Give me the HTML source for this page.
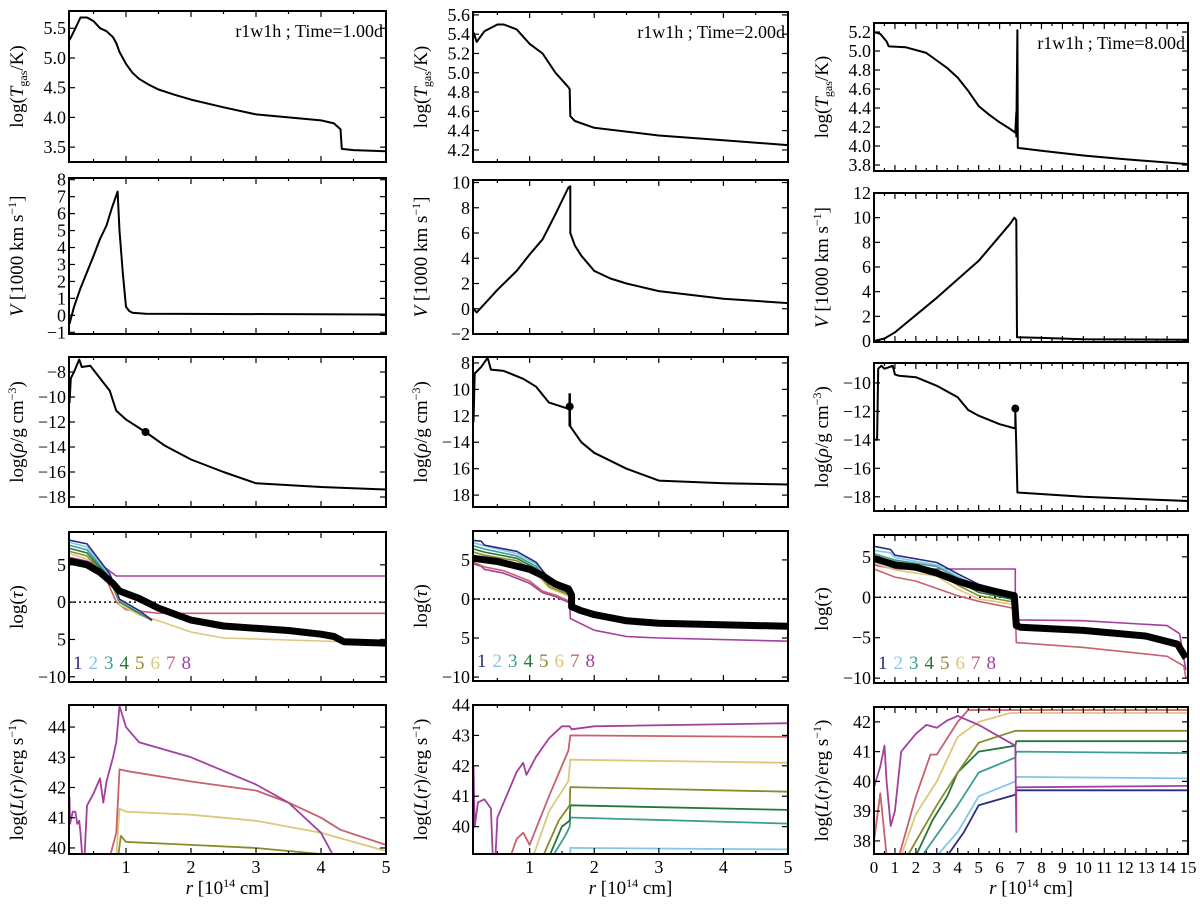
<!DOCTYPE html>
<html><head><meta charset="utf-8"><style>
body{margin:0;background:#fff;width:1200px;height:903px;overflow:hidden}
svg text{font-family:"Liberation Serif",serif;fill:#000}
</style></head><body>
<svg id="fig" width="1200" height="903" viewBox="0 0 1200 903" xmlns="http://www.w3.org/2000/svg"></svg>
<script>
// ---------- data (r in 1e14 cm) ----------
const T1=[[0.13,5.3],[0.2,5.45],[0.3,5.68],[0.4,5.68],[0.5,5.62],[0.6,5.5],[0.7,5.45],[0.8,5.35],[0.85,5.25],[0.9,5.1],[0.95,5.0],[1.0,4.9],[1.1,4.75],[1.2,4.65],[1.35,4.55],[1.5,4.47],[1.75,4.38],[2,4.3],[2.5,4.17],[3,4.05],[3.5,4.0],[4,3.95],[4.2,3.9],[4.3,3.8],[4.32,3.47],[4.5,3.45],[5,3.43]];
const V1=[[0.13,-0.5],[0.2,0.5],[0.3,1.6],[0.5,3.5],[0.6,4.5],[0.7,5.3],[0.78,6.3],[0.87,7.3],[0.9,5],[0.95,2.5],[1.0,0.5],[1.05,0.25],[1.1,0.15],[1.3,0.1],[5,0.05]];
const R1=[[0.13,-10.5],[0.15,-8.5],[0.2,-8],[0.28,-7],[0.32,-7.6],[0.45,-7.5],[0.6,-8.5],[0.75,-9.5],[0.8,-10.3],[0.85,-11.1],[1.0,-11.8],[1.3,-12.8],[1.6,-13.9],[2,-15],[2.5,-16],[3,-16.9],[4,-17.2],[5,-17.4]];
const R1dot=[1.3,-12.8];
const TAU1_black=[[0.13,5.5],[0.4,5],[0.6,4],[0.8,2.5],[0.9,1.5],[1.2,0.5],[1.5,-0.8],[2,-2.4],[2.5,-3.2],[3,-3.5],[3.5,-3.8],[4,-4.3],[4.2,-4.6],[4.35,-5.3],[5,-5.5]];
const TAU1_8=[[0.13,6],[0.4,5.5],[0.7,4.5],[0.85,3.5],[5,3.5]];
const TAU1_7=[[0.13,6],[0.5,5],[0.7,3],[0.85,0],[1.0,-1],[1.5,-1.5],[5,-1.5]];
const TAU1_6=[[0.13,6.5],[0.5,5.5],[0.8,2],[0.9,-0.3],[1.2,-1.7],[1.5,-2.5],[2,-4],[2.5,-4.8],[4,-5.2],[4.3,-5.3]];
const TAU1_5=[[0.13,6.8],[0.4,6.2],[0.75,3],[0.9,0],[1.2,-1.5],[1.4,-2.5]];
const TAU1_4=[[0.13,7.2],[0.4,6.6],[0.75,3.2],[0.9,0.1],[1.2,-1.4],[1.4,-2.4]];
const TAU1_3=[[0.13,7.6],[0.4,7.0],[0.75,3.4],[0.9,0.2],[1.2,-1.3],[1.4,-2.4]];
const TAU1_2=[[0.13,8.0],[0.4,7.4],[0.75,3.6],[0.9,0.3],[1.2,-1.2],[1.4,-2.4]];
const TAU1_1=[[0.13,8.3],[0.4,7.8],[0.75,3.8],[0.9,0.4],[1.2,-1.1],[1.4,-2.4]];
const L1_8=[[0.13,41.7],[0.14,40.8],[0.18,41.2],[0.22,41.2],[0.25,40.8],[0.28,40.9],[0.3,40.5],[0.33,39.6],[0.36,39.6],[0.4,41.4],[0.5,41.8],[0.6,42.3],[0.65,41.5],[0.7,42.2],[0.8,43],[0.85,43.5],[0.9,44.7],[1.0,44],[1.2,43.5],[2,43],[3,42.1],[3.5,41.5],[4,40.5],[4.2,39.7]];
const L1_7=[[0.75,39.7],[0.85,40.5],[0.9,42.6],[1.0,42.55],[2,42.2],[3,41.9],[3.5,41.5],[4,41.0],[4.3,40.6],[5,40.1]];
const L1_6=[[0.85,39.7],[0.9,41.3],[1.0,41.2],[2,41.1],[3,40.9],[4,40.5],[5,39.9]];
const L1_5=[[0.88,39.7],[0.92,40.4],[1.0,40.2],[2,40.1],[3,40.0],[4,39.8],[4.1,39.7]];

const T2=[[0.13,5.42],[0.18,5.32],[0.3,5.43],[0.5,5.5],[0.6,5.5],[0.8,5.45],[1.0,5.3],[1.2,5.2],[1.4,5.0],[1.6,4.85],[1.62,4.83],[1.63,4.55],[1.7,4.5],[2,4.43],[3,4.35],[4,4.3],[5,4.25]];
const V2=[[0.13,0],[0.18,-0.3],[0.5,1.5],[0.8,3],[1.0,4.3],[1.2,5.5],[1.4,7.5],[1.6,9.6],[1.63,9.7],[1.63,6],[1.7,5],[1.8,4.2],[2,3],[2.25,2.4],[2.5,2],[3,1.4],[4,0.8],[5,0.45]];
const R2=[[0.13,-12.5],[0.15,-8.8],[0.25,-8.3],[0.35,-7.6],[0.4,-8.5],[0.6,-8.6],[0.9,-9.2],[1.1,-9.8],[1.3,-11],[1.62,-11.5],[1.63,-12.8],[1.8,-14],[2,-14.8],[2.5,-16],[3,-16.9],[4,-17.1],[5,-17.2]];
const R2bar=[[1.62,-10.3],[1.62,-12.8]];
const R2dot=[1.62,-11.3];
const TAU2_black=[[0.13,5.2],[0.5,4.8],[1.0,3.8],[1.2,3],[1.4,1.9],[1.6,1.3],[1.65,0.5],[1.65,-1],[1.8,-1.5],[2,-2],[2.5,-2.8],[3,-3.1],[5,-3.5]];
const TAU2_8=[[0.13,4.5],[0.25,4.2],[0.3,3.8],[0.6,3.3],[1,2],[1.2,0.8],[1.4,0.3],[1.62,-0.5],[1.63,-2.5],[2,-4],[2.5,-4.8],[3,-5],[5,-5.4]];
const TAU2_7=[[0.13,4.7],[0.3,4.1],[0.6,3.6],[1,2.3],[1.2,1.0],[1.4,0.5],[1.62,-0.3]];
const TAU2_6=[[0.13,5.6],[0.3,5.2],[0.8,4.5],[1.1,3.2],[1.3,1.4],[1.62,0.3]];
const TAU2_5=[[0.13,6.0],[0.3,5.6],[0.8,4.9],[1.1,3.6],[1.3,1.6],[1.62,0.5]];
const TAU2_4=[[0.13,6.4],[0.3,6.0],[0.8,5.2],[1.1,3.9],[1.3,1.9],[1.62,0.7]];
const TAU2_3=[[0.13,6.8],[0.3,6.4],[0.8,5.5],[1.1,4.2],[1.3,2.2],[1.62,0.9]];
const TAU2_2=[[0.13,7.2],[0.3,6.8],[0.8,5.8],[1.1,4.5],[1.3,2.4],[1.62,1.1]];
const TAU2_1=[[0.13,7.5],[0.25,7.4],[0.3,6.9],[0.8,6.1],[1.1,4.7],[1.3,2.6],[1.62,1.3]];
const L2_8=[[0.13,42],[0.15,40],[0.2,40.8],[0.3,40.9],[0.4,40.6],[0.43,39.0],[0.47,39.0],[0.5,40.3],[0.6,40.8],[0.8,41.8],[0.9,42.1],[0.95,41.7],[1.1,42.3],[1.3,42.9],[1.5,43.3],[1.62,43.3],[1.65,43.2],[2,43.3],[5,43.4]];
const L2_7=[[0.7,39.0],[0.8,39.6],[0.9,39.8],[1.0,39.4],[1.3,41],[1.6,42.5],[1.63,43],[5,42.95]];
const L2_6=[[1.05,39.0],[1.3,40.5],[1.6,41.5],[1.63,42.2],[5,42.1]];
const L2_5=[[1.2,39.0],[1.45,40.2],[1.62,40.7],[1.63,41.3],[5,41.15]];
const L2_4=[[1.3,39.0],[1.5,40],[1.62,40.2],[1.63,40.7],[5,40.55]];
const L2_3=[[1.35,39.0],[1.55,39.7],[1.62,40],[1.63,40.3],[5,40.1]];
const L2_2=[[1.63,39.0],[1.63,39.3],[5,39.25]];

const T3=[[0,5.2],[0.3,5.18],[0.6,5.1],[0.7,5.05],[1.5,5.04],[2.5,4.98],[3,4.9],[3.5,4.82],[4,4.72],[4.5,4.58],[5,4.42],[5.5,4.33],[6,4.25],[6.5,4.18],[6.75,4.14],[6.8,4.35],[6.8,4.1],[6.85,5.22],[6.87,3.98],[8,3.95],[10,3.9],[12,3.86],[15,3.81]];
const V3=[[0,0],[0.5,0.2],[1,0.7],[3,3.5],[5,6.5],[6.5,9.5],[6.7,10],[6.8,9.8],[6.83,0.3],[8,0.25],[10,0.15],[15,0.1]];
const R3=[[0,-14],[0.15,-14],[0.2,-9],[0.35,-8.8],[0.5,-9],[0.7,-8.9],[0.9,-8.8],[1.0,-9.4],[1.2,-9.5],[2,-9.6],[3,-10.2],[4,-11],[4.5,-11.9],[5,-12.3],[6,-12.9],[6.75,-13.2],[6.75,-11.9],[6.8,-14.5],[6.85,-17.7],[10,-18],[15,-18.3]];
const R3dot=[6.75,-11.8];
const TAU3_black=[[0,4.8],[1,4],[2,3.7],[3,3],[4,2],[5,1.2],[6,0.6],[6.7,0.2],[6.8,-3.5],[7,-3.7],[10,-4.1],[13,-4.8],[14.5,-5.8],[14.9,-7.5]];
const TAU3_8=[[0,4],[1,3.5],[2,3.5],[6.75,3.5],[6.75,-2.8],[10,-2.9],[14,-3.5],[14.6,-4.5],[14.9,-9]];
const TAU3_7=[[0,3.5],[1,2.5],[2,2],[4,0.2],[5,-0.5],[6.75,-1.4],[6.8,-5.6],[10,-6.2],[14,-7.3],[14.8,-8.5],[14.9,-10]];
const TAU3_6=[[0,4.2],[1,3.4],[3,2.6],[4,1.0],[5,-0.2],[6.7,-0.9]];
const TAU3_5=[[0,4.6],[1,3.8],[3,3.0],[4,1.5],[5,0.2],[6.7,-0.6]];
const TAU3_4=[[0,5.0],[1,4.2],[3,3.4],[4,2.0],[5,0.6],[6.7,-0.3]];
const TAU3_3=[[0,5.4],[1,4.6],[3,3.8],[4,2.4],[5,1.0],[6.7,0.0]];
const TAU3_2=[[0,5.8],[0.8,5.5],[1,4.9],[3,4.0],[4,2.6],[5,1.3],[6.7,0.2]];
const TAU3_1=[[0,6.3],[0.8,5.9],[1,5.2],[3,4.3],[4,2.9],[5,1.6],[6.7,0.4]];
const L3_8=[[0,39.8],[0.3,40.5],[0.5,41.2],[0.6,40],[0.8,38.5],[1,39],[1.3,41],[2,41.6],[2.5,41.9],[3,41.8],[3.5,42.05],[4,42.2],[5,41.9],[6,41.5],[6.75,41.2],[6.8,38.3],[6.8,39.8],[15,39.85]];
const L3_7=[[0,38],[0.3,39.6],[0.6,37.5],[1.2,37.5],[2,39.5],[2.7,40.9],[3,40.9],[4,42],[4.5,42.4],[6,42.4],[15,42.4]];
const L3_6=[[1.3,37.5],[2,38.9],[3,40],[4,41.5],[5,42],[6.5,42.3],[15,42.3]];
const L3_5=[[1.6,37.5],[3,39.2],[4,40.3],[5,41.3],[6.75,41.7],[15,41.7]];
const L3_4=[[2,37.5],[2.8,38.7],[3.5,39.5],[4,40.3],[5,41],[6.75,41.2],[6.8,41.35],[15,41.35]];
const L3_3=[[2.3,37.5],[3,38.2],[4,39.2],[5,40.3],[6.75,40.8],[6.8,41],[15,40.95]];
const L3_2=[[3,37.5],[4,38.3],[5,39.5],[6.75,40],[6.8,40.15],[15,40.1]];
const L3_1=[[3.5,37.5],[4.3,38.3],[5,39.2],[6.75,39.55],[6.8,39.7],[15,39.7]];

const TICKS_T1=[3.5,4.0,4.5,5.0,5.5], LAB_T1=["3.5","4.0","4.5","5.0","5.5"];
const TICKS_V1=[-1,0,1,2,3,4,5,6,7,8], LAB_V1=["−1","0","1","2","3","4","5","6","7","8"];
const TICKS_R=[-8,-10,-12,-14,-16,-18];
const LAB_R1=["−8","−10","−12","−14","−16","−18"], LAB_R2=["8","10","12","−14","16","18"];
const TICKS_TAU=[5,0,-5,-10], LAB_TAU=["5","0","5","−10"], LAB_TAU3=["5","0","−5","−10"];
const TICKS_L12=[40,41,42,43,44];
const TICKS_T2=[4.2,4.4,4.6,4.8,5.0,5.2,5.4,5.6], LAB_T2=["4.2","4.4","4.6","4.8","5.0","5.2","5.4","5.6"];
const TICKS_V2=[-2,0,2,4,6,8,10], LAB_V2=["−2","0","2","4","6","8","10"];
const TICKS_T3=[3.8,4.0,4.2,4.4,4.6,4.8,5.0,5.2], LAB_T3=["3.8","4.0","4.2","4.4","4.6","4.8","5.0","5.2"];
const TICKS_V3=[0,2,4,6,8,10,12];
const TICKS_R3=[-10,-12,-14,-16,-18];
const TICKS_L3=[38,39,40,41,42];
const XT12=[1,2,3,4,5];
const XT3=[0,1,2,3,4,5,6,7,8,9,10,11,12,13,14,15];

const COL=["#2b2a80","#82c8e6","#3b9e8e","#26763a","#8b8a2c","#dcc87c","#c8606e","#a2409e"];
// ---------- drawing ----------
const NS="http://www.w3.org/2000/svg";
const svg=document.getElementById("fig");
const FF='"Liberation Serif", serif';
function mk(tag,attrs,parent){const e=document.createElementNS(NS,tag);for(const k in attrs)e.setAttribute(k,attrs[k]);if(tag==="text")e.setAttribute("font-family",FF);(parent||svg).appendChild(e);return e;}
let clipN=0;
function panel(name,box,xr,yr,yt,yl,ylabel,xt,showX){
  const g=mk("g",{});
  
  
  const [x0,y0,x1,y1]=box;
  const sx=v=>x0+(v-xr[0])/(xr[1]-xr[0])*(x1-x0);
  const sy=v=>y1-(v-yr[0])/(yr[1]-yr[0])*(y1-y0);
  const id="c"+(clipN++);
  const cp=mk("clipPath",{id:id},g);mk("rect",{x:x0,y:y0,width:x1-x0,height:y1-y0},cp);
  const plot=mk("g",{"clip-path":"url(#"+id+")"},g);
  const step=0.5;
  for(let v=Math.ceil(xr[0]/step)*step;v<=xr[1]+1e-9;v+=step){
    const major=Math.abs(v-Math.round(v))<1e-6;const L=major?6:3;const X=sx(v);
    mk("line",{x1:X,x2:X,y1:y1,y2:y1-L,stroke:"#000","stroke-width":1.2},g);
    mk("line",{x1:X,x2:X,y1:y0,y2:y0+L,stroke:"#000","stroke-width":1.2},g);
  }
  if(showX){xt.forEach(v=>{const t=mk("text",{x:sx(v),y:y1+19,"font-size":xr[1]>10?17:18,"text-anchor":"middle"},g);t.textContent=String(v);
    
    });}
  yt.forEach((v,i)=>{const Y=sy(v);
    mk("line",{x1:x0,x2:x0+6,y1:Y,y2:Y,stroke:"#000","stroke-width":1.2},g);
    mk("line",{x1:x1,x2:x1-6,y1:Y,y2:Y,stroke:"#000","stroke-width":1.2},g);
    const t=mk("text",{x:x0-3,y:Y+6,"font-size":18,"text-anchor":"end"},g);t.textContent=yl[i];
    
    
  });
  const lx=x0-46, ly=(y0+y1)/2;
  const yt2=mk("text",{x:lx,y:ly,"font-size":19,"text-anchor":"middle",transform:`rotate(-90 ${lx} ${ly})`},g);
  yt2.innerHTML=ylabel;
  
  
  const api={g,plot,sx,sy,box,
    line(data,color,w,nm,dash){const d=data.map((p,i)=>(i?"L":"M")+sx(p[0]).toFixed(1)+","+sy(p[1]).toFixed(1)).join("");
      const e=mk("path",{d:d,fill:"none",stroke:color,"stroke-width":w,"stroke-linejoin":"round"},plot);if(dash)e.setAttribute("stroke-dasharray",dash);
      
      return e;},
    dot(p){const c=mk("circle",{cx:sx(p[0]),cy:sy(p[1]),r:4,fill:"#000"},plot);
      
      },
    frame(){const r=mk("rect",{x:x0,y:y0,width:x1-x0,height:y1-y0,fill:"none",stroke:"#000","stroke-width":2},g);
      
      },
    label(txt){const t=mk("text",{x:x1-3,y:y0+26,"font-size":18,"text-anchor":"end"},g);t.textContent=txt;
      
      },
    legend(x,y,sp){for(let i=0;i<8;i++){const t=mk("text",{x:x+i*sp,y:y,"font-size":19,fill:COL[i]},g);t.textContent=String(i+1);t.style.fill=COL[i];
      
      }}
  };
  return api;
}
const XR12=[0.123,5],XR3=[0,15];
const C1=[69,386],C2=[473,788],C3=[874,1188];
const TL='log(<tspan font-style="italic">T</tspan><tspan font-size="12" dy="4">gas</tspan><tspan dy="-4">/K)</tspan>';
const VL='<tspan font-style="italic">V</tspan> [1000 km s<tspan font-size="12" dy="-7">−1</tspan><tspan dy="7">]</tspan>';
const RL='log(<tspan font-style="italic">ρ</tspan>/g cm<tspan font-size="12" dy="-7">−3</tspan><tspan dy="7">)</tspan>';
const TAUL='log(<tspan font-style="italic">τ</tspan>)';
const LL='log(<tspan font-style="italic">L</tspan>(<tspan font-style="italic">r</tspan>)/erg s<tspan font-size="12" dy="-7">−1</tspan><tspan dy="7">)</tspan>';
function tauPanel(name,box,xr,yr,lab,black,lines,legX,legY){
  const p=panel(name,box,xr,yr,TICKS_TAU,lab,TAUL,[],false);
  p.line([[xr[0],0],[xr[1],0]],"#000",1.5,"tau-unity-line","2,3");
  for(let i=lines.length-1;i>=0;i--)if(lines[i])p.line(lines[i],COL[i],1.6,"tau-band-"+(i+1));
  p.line(black,"#000",7,"tau-mean");
  p.legend(legX,legY,15.5);p.frame();
}
let p;
p=panel("temp-panel-1d",[C1[0],11,C1[1],162],XR12,[3.25,5.79],TICKS_T1,LAB_T1,TL,[],false);p.line(T1,"#000",2,"temp-curve");p.label("r1w1h ; Time=1.00d");p.frame();
p=panel("vel-panel-1d",[C1[0],178,C1[1],334],XR12,[-1.1,8.1],TICKS_V1,LAB_V1,VL,[],false);p.line(V1,"#000",2,"vel-curve");p.frame();
p=panel("rho-panel-1d",[C1[0],357,C1[1],507],XR12,[-18.8,-6.8],TICKS_R,LAB_R1,RL,[],false);p.line(R1,"#000",2,"rho-curve");p.dot(R1dot);p.frame();
tauPanel("tau-panel-1d",[C1[0],532,C1[1],682],XR12,[-10.7,9.4],LAB_TAU,TAU1_black,[TAU1_1,TAU1_2,TAU1_3,TAU1_4,TAU1_5,TAU1_6,TAU1_7,TAU1_8],73,669);
p=panel("lum-panel-1d",[C1[0],705,C1[1],854],XR12,[39.8,44.73],TICKS_L12,TICKS_L12.map(String),LL,XT12,true);
p.line(L1_5,COL[4],1.8,"lum-band-5");p.line(L1_6,COL[5],1.8,"lum-band-6");p.line(L1_7,COL[6],1.8,"lum-band-7");p.line(L1_8,COL[7],1.8,"lum-band-8");p.frame();
p=panel("temp-panel-2d",[C2[0],12,C2[1],162],XR12,[4.075,5.63],TICKS_T2,LAB_T2,TL,[],false);p.line(T2,"#000",2,"temp-curve");p.label("r1w1h ; Time=2.00d");p.frame();
p=panel("vel-panel-2d",[C2[0],180,C2[1],334],XR12,[-2,10.2],TICKS_V2,LAB_V2,VL,[],false);p.line(V2,"#000",2,"vel-curve");p.frame();
p=panel("rho-panel-2d",[C2[0],357,C2[1],507],XR12,[-18.9,-7.55],TICKS_R,LAB_R2,RL,[],false);p.line(R2,"#000",2,"rho-curve");p.line(R2bar,"#000",2.5,"rho-spike");p.dot(R2dot);p.frame();
tauPanel("tau-panel-2d",[C2[0],531,C2[1],681],XR12,[-10.5,8.7],LAB_TAU,TAU2_black,[TAU2_1,TAU2_2,TAU2_3,TAU2_4,TAU2_5,TAU2_6,TAU2_7,TAU2_8],477,667);
p=panel("lum-panel-2d",[C2[0],705,C2[1],854],XR12,[39.1,44],TICKS_L12,TICKS_L12.map(String),LL,XT12,true);
[null,L2_2,L2_3,L2_4,L2_5,L2_6,L2_7,L2_8].forEach((d,i)=>{if(d)p.line(d,COL[i],1.8,"lum-band-"+(i+1));});p.frame();
p=panel("temp-panel-8d",[C3[0],23,C3[1],171],XR3,[3.737,5.295],TICKS_T3,LAB_T3,TL,[],false);p.line(T3,"#000",2,"temp-curve");p.label("r1w1h ; Time=8.00d");p.frame();
p=panel("vel-panel-8d",[C3[0],193,C3[1],342],XR3,[-0.08,12],TICKS_V3,TICKS_V3.map(String),VL,[],false);p.line(V3,"#000",2,"vel-curve");p.frame();
p=panel("rho-panel-8d",[C3[0],363,C3[1],511],XR3,[-19,-8.6],TICKS_R3,TICKS_R3.map(v=>"−"+(-v)),RL,[],false);p.line(R3,"#000",2,"rho-curve");p.dot(R3dot);p.frame();
tauPanel("tau-panel-8d",[C3[0],535,C3[1],683],XR3,[-10.6,7.7],LAB_TAU3,TAU3_black,[TAU3_1,TAU3_2,TAU3_3,TAU3_4,TAU3_5,TAU3_6,TAU3_7,TAU3_8],878,669);
p=panel("lum-panel-8d",[C3[0],707,C3[1],854],XR3,[37.56,42.5],TICKS_L3,TICKS_L3.map(String),LL,XT3,true);
[L3_1,L3_2,L3_3,L3_4,L3_5,L3_6,L3_7,L3_8].forEach((d,i)=>p.line(d,COL[i],1.8,"lum-band-"+(i+1)));p.frame();
[C1,C2,C3].forEach(c=>{const t=mk("text",{x:(c[0]+c[1])/2,y:894,"font-size":19,"text-anchor":"middle"});
  t.innerHTML='<tspan font-style="italic">r</tspan> [10<tspan font-size="12" dy="-7">14</tspan><tspan dy="7"> cm]</tspan>';
  
  });
</script>
</body></html>
